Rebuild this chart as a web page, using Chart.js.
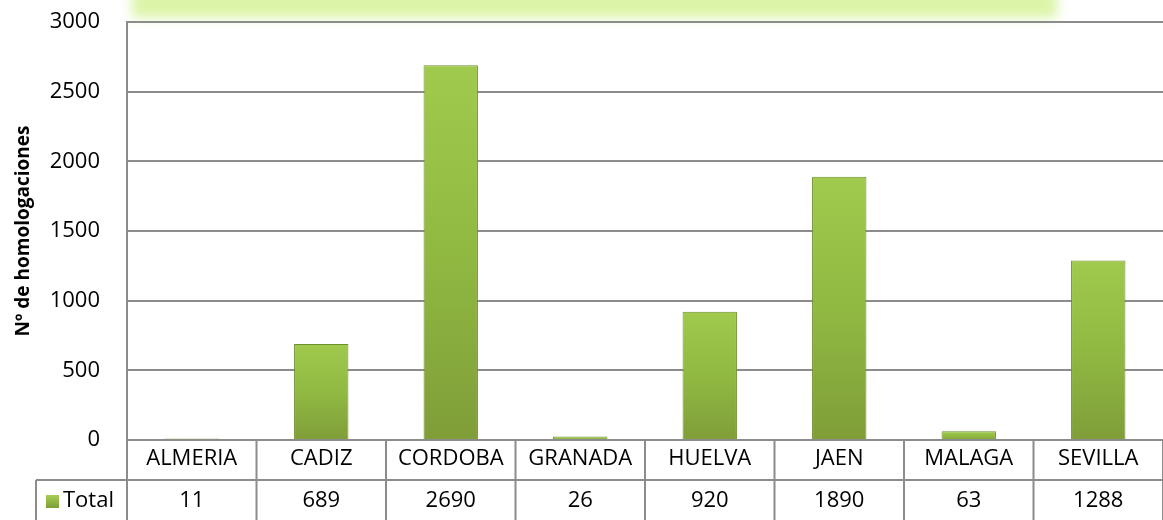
<!DOCTYPE html>
<html>
<head>
<meta charset="utf-8">
<script src="https://cdn.jsdelivr.net/npm/chart.js@4/dist/chart.umd.min.js"></script>
<style>
  body { margin: 0; background: #fff; }
  #wrap { width: 1163px; height: 520px; position: relative; }
</style>
</head>
<body>
<div id="wrap"><canvas id="homologaciones"></canvas></div>
<script>
const provincias = ['ALMERIA', 'CADIZ', 'CORDOBA', 'GRANADA', 'HUELVA', 'JAEN', 'MALAGA', 'SEVILLA'];
const totales = [11, 689, 2690, 26, 920, 1890, 63, 1288];
const serieNombre = 'Total';
const yTicks = [0, 500, 1000, 1500, 2000, 2500, 3000];

const FONT = '"Open Sans", Calibri, sans-serif';
const LINE = '#8c8c8c';

// per-bar gradient, light on top and darker at the base
function barFill(context) {
  const chart = context.chart;
  const y = chart.scales.y;
  if (!y || !chart.chartArea) return '#8db43f';
  const top = y.getPixelForValue(context.raw);
  const bottom = y.getPixelForValue(0);
  const g = chart.ctx.createLinearGradient(0, top, 0, bottom + 1);
  g.addColorStop(0, '#a0ca4d');
  g.addColorStop(0.5, '#90b942');
  g.addColorStop(1, '#7f9d38');
  return g;
}

// the soft green band at the top of the picture
const topBand = {
  id: 'topBand',
  beforeDraw(chart) {
    const ctx = chart.ctx;
    ctx.save();
    ctx.filter = 'blur(6px)';
    ctx.fillStyle = '#dcf4a8';
    ctx.fillRect(132, -30, 925, 48);
    ctx.restore();
  }
};

// data table under the plot
const dataTable = {
  id: 'dataTable',
  afterDraw(chart) {
    const ctx = chart.ctx;
    const x = chart.scales.x;
    const area = chart.chartArea;
    const band = (x.right - x.left) / provincias.length;
    const rowTop = area.bottom + 40;
    const rowBottom = chart.height;
    const left = 36;

    ctx.save();
    ctx.strokeStyle = LINE;
    ctx.lineWidth = 2;
    ctx.beginPath();
    ctx.moveTo(left, rowTop);
    ctx.lineTo(x.right, rowTop);
    ctx.moveTo(left, rowTop);
    ctx.lineTo(left, rowBottom);
    ctx.moveTo(x.left, area.bottom);
    ctx.lineTo(x.left, rowBottom);
    for (let i = 0; i < provincias.length; i++) {
      const bx = x.getPixelForValue(i) + band / 2;
      ctx.moveTo(bx, area.bottom);
      ctx.lineTo(bx, rowBottom);
    }
    ctx.stroke();

    ctx.fillStyle = '#000';
    ctx.font = '22px ' + FONT;
    ctx.textAlign = 'center';
    ctx.textBaseline = 'middle';
    const cy = (rowTop + rowBottom) / 2 + 1;
    totales.forEach((v, i) => {
      ctx.fillText(String(v), x.getPixelForValue(i), cy);
    });

    // legend key + series name
    const g = ctx.createLinearGradient(0, cy - 7, 0, cy + 7);
    g.addColorStop(0, '#a9d356');
    g.addColorStop(1, '#7c9d36');
    ctx.fillStyle = g;
    ctx.fillRect(46, cy - 6, 13, 13);
    ctx.fillStyle = '#000';
    ctx.textAlign = 'left';
    ctx.fillText(serieNombre, 63, cy);
    ctx.restore();
  }
};

const homologData = {
  labels: provincias,
  datasets: [{
    label: serieNombre,
    data: totales,
    backgroundColor: barFill,
    borderColor: '#6f8f2d',
    borderWidth: 1,
    categoryPercentage: 1,
    barPercentage: 0.42
  }]
};

const homologConfig = {
  type: 'bar',
  data: homologData,
  options: {
    responsive: true,
    maintainAspectRatio: false,
    animation: false,
    layout: {
      padding: { top: 22, bottom: 40, left: 0, right: 0 }
    },
    plugins: {
      legend: { display: false },
      tooltip: { enabled: false }
    },
    scales: {
      x: {
        afterFit(scale) { scale.height = 40; },
        grid: { drawOnChartArea: false, drawTicks: false },
        border: { display: true, color: LINE, width: 2 },
        ticks: { color: '#000', font: { family: FONT, size: 22 }, padding: 6 }
      },
      y: {
        min: 0,
        max: 3000,
        afterFit(scale) { scale.width = 127; },
        afterBuildTicks(scale) { scale.ticks = yTicks.map(v => ({ value: v })); },
        // invisible tick marks keep the labels away from the axis
        grid: { color: LINE, lineWidth: 2, drawTicks: true, tickLength: 24, tickColor: 'rgba(0,0,0,0)' },
        border: { display: true, color: LINE, width: 2 },
        ticks: {
          color: '#000',
          font: { family: FONT, size: 22 },
          padding: 3,
          callback: (v) => String(v)
        },
        title: {
          display: true,
          text: 'Nº de homologaciones',
          color: '#000',
          font: { family: FONT, size: 19, weight: 'bold' },
          padding: { top: 12, bottom: 0 }
        }
      }
    }
  },
  plugins: [topBand, dataTable]
};

const homologChart = new Chart(document.getElementById('homologaciones'), homologConfig);
</script>
</body>
</html>
